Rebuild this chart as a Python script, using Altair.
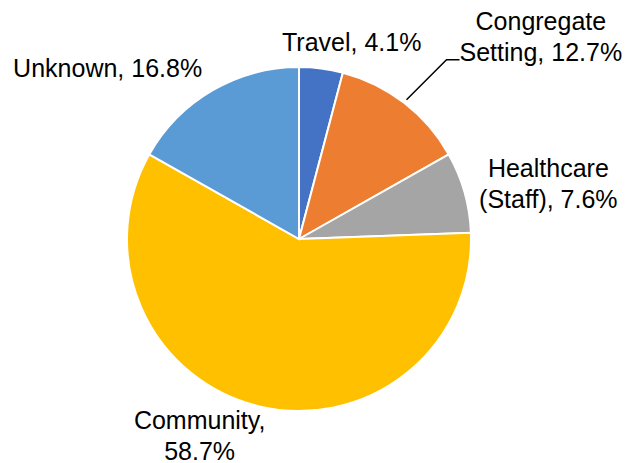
import math
import altair as alt
import pandas as pd

categories = ["Travel", "Congregate Setting", "Healthcare (Staff)", "Community", "Unknown"]
labels = ["Travel, 4.1%", "Congregate\nSetting, 12.7%", "Healthcare\n(Staff), 7.6%", "Community,\n58.7%", "Unknown, 16.8%"]
values = [4.1, 12.7, 7.6, 58.7, 16.8]
colors = ["#4472C4", "#ED7D31", "#A5A5A5", "#FFC000", "#5B9BD5"]

df = pd.DataFrame({"cat": categories, "label": labels, "value": values, "order": list(range(len(values)))})

CX, CY, R = 299, 239, 172
FONT = "Liberation Sans"
total = sum(values)

theta = alt.Theta("value:Q", stack=True)
order = alt.Order("order:Q", sort="ascending")
color = alt.Color("cat:N", scale=alt.Scale(domain=categories, range=colors), legend=None)

pie = alt.Chart(df).mark_arc(outerRadius=R, stroke="white", strokeWidth=2).encode(
    theta=theta, order=order, color=color, x=alt.value(CX), y=alt.value(CY)
)

label_base = (
    alt.Chart(df)
    .transform_window(cum="sum(value)", sort=[alt.SortField("order", order="ascending")],
                      frame=[None, 0])
    .transform_calculate(mid="datum.cum - datum.value / 2")
    .encode(
        theta=alt.Theta("mid:Q", stack=None, scale=alt.Scale(domain=[0, total], range=[0, 2 * math.pi])),
        x=alt.value(CX), y=alt.value(CY), text="label:N",
    )
)

# label placement: (radius, dx, dy)
offsets = {
    "Travel": (200, 27, 2),
    "Congregate Setting": (260, 83, -11),
    "Healthcare (Staff)": (230, 28, -8),
    "Community": (200, -52, -12),
    "Unknown": (215, -83, 16),
}
layers = [pie]
for cat, (rad, dx, dy) in offsets.items():
    layers.append(
        label_base.transform_filter(alt.datum.cat == cat)
        .mark_text(radius=rad, dx=dx, dy=dy, font=FONT, fontSize=25, color="#000000",
                   lineBreak="\n", lineHeight=31, align="center", baseline="middle")
    )

# leader line for Congregate Setting, starting just outside its slice mid-angle
mid = (values[0] + values[1] / 2) / total * 2 * math.pi
sx, sy = CX + 176 * math.sin(mid), CY - 176 * math.cos(mid)
lead = pd.DataFrame({"px": [sx, sx + 40, sx + 53], "py": [sy, sy - 40, sy - 40], "i": [0, 1, 2]})
leader = alt.Chart(lead).mark_line(color="#000000", strokeWidth=1.5).encode(
    x=alt.X("px:Q", scale=alt.Scale(domain=[0, 626], range=[0, 626]), axis=None),
    y=alt.Y("py:Q", scale=alt.Scale(domain=[0, 463], range=[0, 463]), axis=None),
    order="i:Q",
)
layers.append(leader)

chart = alt.layer(*layers).resolve_scale(theta="independent").properties(
    width=626, height=463, autosize=alt.AutoSizeParams(type="none"), padding=0
).configure_view(stroke=None)

chart.save("out.html", embed_options={"renderer": "svg", "actions": False})
